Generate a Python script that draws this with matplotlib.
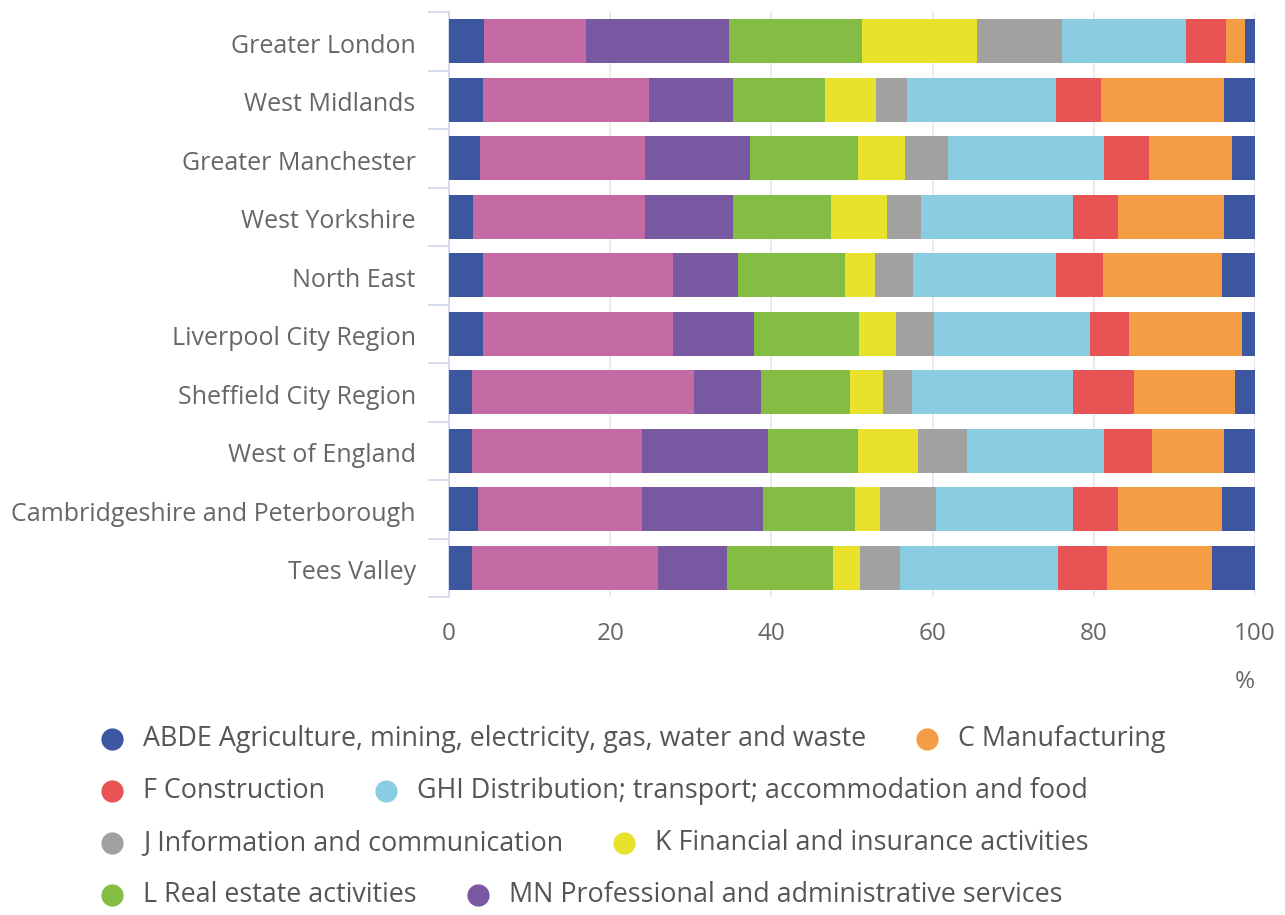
import matplotlib
matplotlib.use("Agg")
import matplotlib.pyplot as plt
import matplotlib.transforms as mtransforms
import numpy as np

plt.rcParams['font.family'] = ['Open Sans', 'DejaVu Sans']

# Regions, top to bottom
regions = ["Greater London", "West Midlands", "Greater Manchester", "West Yorkshire",
           "North East", "Liverpool City Region", "Sheffield City Region",
           "West of England", "Cambridgeshire and Peterborough", "Tees Valley"]

# Share of GVA by sector (%), stacked left to right
rst  = [4.4, 4.2, 3.9, 3.0, 4.2, 4.2, 2.8, 2.8, 3.6, 2.8]
opq  = [12.6, 20.6, 20.4, 21.3, 23.6, 23.6, 27.6, 21.2, 20.4, 23.1]
mn   = [17.7, 10.4, 13.1, 10.9, 8.1, 10.1, 8.3, 15.6, 15.0, 8.6]
l_re = [16.6, 11.4, 13.3, 12.2, 13.2, 13.0, 11.1, 11.1, 11.4, 13.1]
k_fi = [14.2, 6.4, 5.9, 7.0, 3.8, 4.5, 4.0, 7.5, 3.1, 3.4]
j_ic = [10.5, 3.8, 5.3, 4.1, 4.7, 4.8, 3.6, 6.1, 6.9, 5.0]
ghi  = [15.4, 18.5, 19.4, 18.9, 17.7, 19.3, 20.0, 17.0, 17.0, 19.5]
f_co = [5.0, 5.6, 5.6, 5.6, 5.8, 4.9, 7.6, 5.9, 5.6, 6.1]
c_ma = [2.3, 15.3, 10.3, 13.2, 14.8, 14.0, 12.5, 9.0, 12.9, 13.1]
abde = [1.3, 3.8, 2.8, 3.8, 4.1, 1.6, 2.5, 3.8, 4.1, 5.3]

blue, orange, red, lblue = "#3c57a0", "#f59d45", "#e85353", "#8acde3"
grey, yellow, green, purple, pink = "#a1a1a0", "#e8e22d", "#84bd44", "#7859a1", "#c46ba6"

stack = [(rst, blue), (opq, pink), (mn, purple), (l_re, green), (k_fi, yellow),
         (j_ic, grey), (ghi, lblue), (f_co, red), (c_ma, orange), (abde, blue)]

legend_items = [
    [("ABDE Agriculture, mining, electricity, gas, water and waste", blue), ("C Manufacturing", orange)],
    [("F Construction", red), ("GHI Distribution; transport; accommodation and food", lblue)],
    [("J Information and communication", grey), ("K Financial and insurance activities", yellow)],
    [("L Real estate activities", green), ("MN Professional and administrative services", purple)],
]

fig = plt.figure(figsize=(12.85, 9.15), dpi=100)
ax = fig.add_axes([449/1285, 1-597/915, 806/1285, 585/915])

y = np.arange(len(regions))
left = np.zeros(len(regions))
for vals, col in stack:
    ax.barh(y, vals, left=left, height=0.76, color=col, edgecolor='none', zorder=3)
    left += np.array(vals)

ax.set_xlim(0, 100)
ax.set_ylim(len(regions) - 0.5, -0.5)
ax.set_xticks([0, 20, 40, 60, 80, 100])
ax.grid(axis='x', color='#e6e6e6', linewidth=1.2, zorder=0)
for s in ['top', 'right', 'bottom']:
    ax.spines[s].set_visible(False)
ax.spines['left'].set_color('#ccd6eb')
ax.spines['left'].set_linewidth(1.2)
ax.set_yticks(y)
ax.set_yticklabels(regions, fontsize=18, color='#666666')
ax.set_yticks(np.arange(-0.5, len(regions)), minor=True)
ax.tick_params(axis='y', which='major', length=0, pad=24)
ax.tick_params(axis='y', which='minor', length=15, color='#ccd6eb', width=1.2)
ax.tick_params(axis='x', length=0, labelsize=17.5, labelcolor='#666666', pad=18)
ax.set_xlabel('%', fontsize=17.5, color='#666666', loc='right', labelpad=17)

# nudge category labels down a little
shift = mtransforms.ScaledTranslation(0, -2/100, fig.dpi_scale_trans)
for lab in ax.get_yticklabels():
    lab.set_transform(lab.get_transform() + shift)

# legend drawn in pixel coordinates
lax = fig.add_axes([0, 0, 1, 1])
lax.set_xlim(0, 1285)
lax.set_ylim(915, 0)
lax.axis('off')
fig.canvas.draw()
renderer = fig.canvas.get_renderer()
inv = lax.transData.inverted()
row_y = [739, 791, 843, 895]
for ry, row in zip(row_y, legend_items):
    x = 112
    for label, col in row:
        lax.plot([x], [ry], 'o', color=col, markersize=16, markeredgewidth=0)
        t = lax.text(x + 31, ry, label, fontsize=19.4, color='#555555', va='center', ha='left')
        bb = t.get_window_extent(renderer=renderer)
        x_end = inv.transform((bb.x1, bb.y0))[0]
        x = x_end + 61

fig.savefig('out.png', dpi=100)
